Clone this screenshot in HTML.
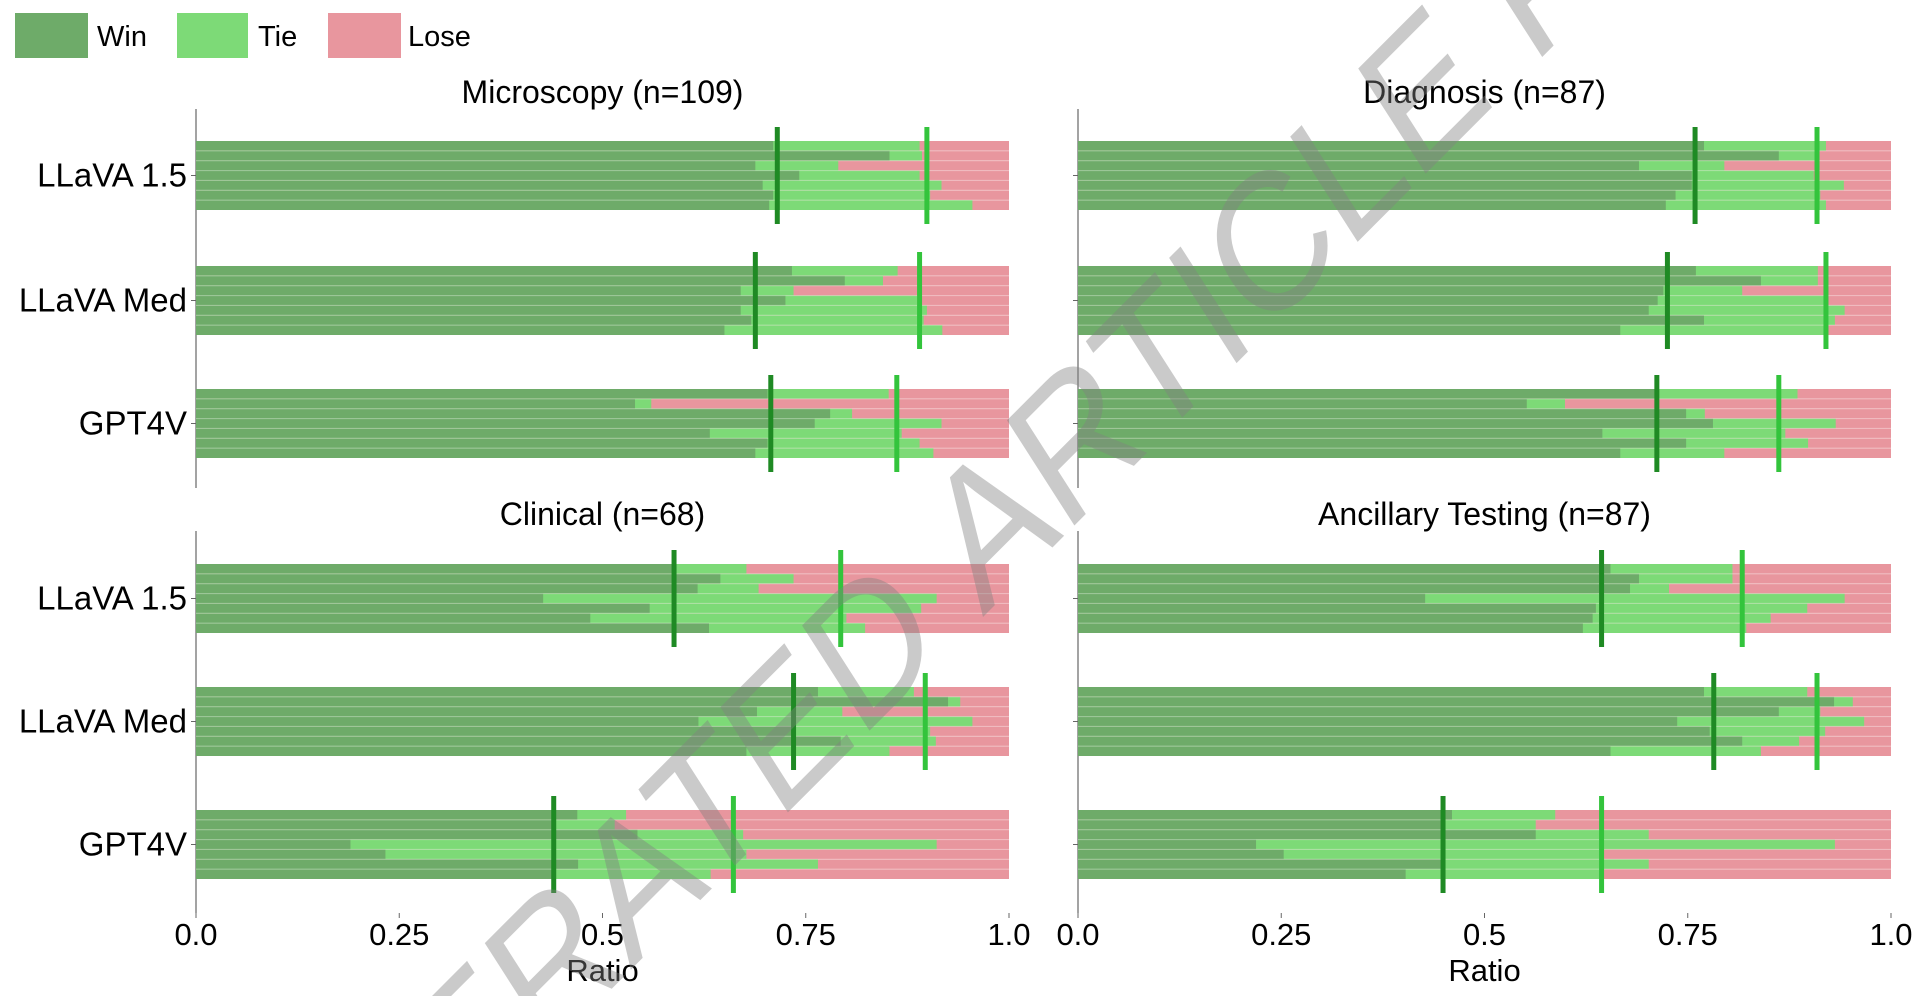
<!DOCTYPE html>
<html><head><meta charset="utf-8"><style>
html,body{margin:0;padding:0;background:#fff;overflow:hidden;width:1928px;height:996px;}
svg{display:block;font-family:"Liberation Sans",Arial,sans-serif;overflow:hidden;}
</style></head><body>
<svg id="chart" width="1928" height="996" viewBox="0 0 1928 996" xmlns="http://www.w3.org/2000/svg">
<g>
<rect x="15" y="13" width="73" height="45" fill="#6eab69"/>
<text x="97" y="46" font-size="29">Win</text>
<rect x="177" y="13" width="71" height="45" fill="#7dda77"/>
<text x="258" y="46" font-size="29">Tie</text>
<rect x="328" y="13" width="73" height="45" fill="#e8969e"/>
<text x="408" y="46" font-size="29">Lose</text>
</g>
<g id="panels"></g>
<g id="wm"></g>
</svg>
<script>
const panelTitles = ["Microscopy (n=109)", "Diagnosis (n=87)", "Clinical (n=68)", "Ancillary Testing (n=87)"];
const models = ["LLaVA 1.5", "LLaVA Med", "GPT4V"];
const xTicks = [0, 0.25, 0.5, 0.75, 1.0];
const xTickLabels = ["0.0", "0.25", "0.5", "0.75", "1.0"];
// win fraction per row (7 rows per model)
const winMicro = [[0.71,0.853,0.688,0.742,0.697,0.71,0.705],[0.733,0.798,0.67,0.725,0.67,0.683,0.65],[0.703,0.54,0.78,0.761,0.632,0.703,0.688]];
const winTieMicro = [[0.89,0.893,0.79,0.89,0.917,0.903,0.955],[0.863,0.845,0.735,0.887,0.899,0.895,0.918],[0.852,0.56,0.807,0.917,0.868,0.89,0.907]];
const meanMicro = [[0.715,0.899],[0.688,0.89],[0.707,0.862]];
const winDiag = [[0.77,0.862,0.69,0.755,0.755,0.735,0.723],[0.76,0.84,0.72,0.713,0.702,0.77,0.667],[0.713,0.552,0.748,0.781,0.645,0.748,0.667]];
const winTieDiag = [[0.92,0.91,0.795,0.905,0.942,0.913,0.92],[0.91,0.91,0.817,0.92,0.943,0.931,0.923],[0.885,0.599,0.771,0.932,0.87,0.898,0.795]];
const meanDiag = [[0.759,0.909],[0.725,0.92],[0.712,0.862]];
const winClin = [[0.587,0.645,0.617,0.427,0.558,0.485,0.631],[0.765,0.925,0.69,0.618,0.733,0.793,0.677],[0.469,0.44,0.543,0.19,0.233,0.47,0.44]];
const winTieClin = [[0.677,0.735,0.692,0.911,0.892,0.8,0.823],[0.883,0.94,0.795,0.955,0.903,0.91,0.853],[0.529,0.515,0.673,0.911,0.677,0.765,0.633]];
const meanClin = [[0.588,0.793],[0.735,0.897],[0.44,0.661]];
const winAnc = [[0.655,0.69,0.679,0.427,0.637,0.633,0.621],[0.77,0.93,0.862,0.737,0.777,0.817,0.655],[0.46,0.45,0.563,0.219,0.253,0.45,0.403]];
const winTieAnc = [[0.805,0.805,0.727,0.943,0.897,0.852,0.822],[0.897,0.953,0.913,0.967,0.919,0.887,0.84],[0.587,0.563,0.702,0.931,0.647,0.702,0.647]];
const meanAnc = [[0.644,0.817],[0.782,0.909],[0.449,0.644]];

const wins = [winMicro, winDiag, winClin, winAnc];
const winTies = [winTieMicro, winTieDiag, winTieClin, winTieAnc];
const means = [meanMicro, meanDiag, meanClin, meanAnc];

const NS = "http://www.w3.org/2000/svg";
function mk(tag, attrs, parent){ const e=document.createElementNS(NS,tag); for(const k in attrs) e.setAttribute(k,attrs[k]); parent.appendChild(e); return e; }
const root = document.getElementById("panels");
const panelX = [196, 1078, 196, 1078];
const panelW = 813;
const groupTops = [[141,266,389],[141,266,389],[564,687,810],[564,687,810]];
const axisY = [[109,488],[109,488],[531,913],[531,913]];
const titleY = [103,103,525,525];
const groupH = 69, nRows = 7;

for (let p=0;p<4;p++){
  const x0 = panelX[p];
  const sx = v => x0 + v*panelW;
  const g = mk("g",{},root);
  
  
  const t = mk("text",{x:x0+panelW/2,y:titleY[p],"font-size":32,"text-anchor":"middle"},g);
  t.textContent = panelTitles[p];
  
  
  const ax = mk("line",{x1:x0,x2:x0,y1:axisY[p][0],y2:axisY[p][1],stroke:"#666","stroke-width":1.2},g);
  
  
  for (let m=0;m<3;m++){
    const gt = groupTops[p][m];
    const rh = groupH/nRows;
    for (let r=0;r<nRows;r++){
      const y = gt + r*rh;
      const w = wins[p][m][r], wt = winTies[p][m][r];
      const lose = mk("rect",{x:sx(0),y:y,width:sx(1)-sx(0),height:rh,fill:"#e8969e"},g);
      
      
      const tie = mk("rect",{x:sx(0),y:y,width:sx(wt)-sx(0),height:rh,fill:"#7dda77"},g);
      
      
      const win = mk("rect",{x:sx(0),y:y,width:sx(w)-sx(0),height:rh,fill:"#6eab69"},g);
      
      
      if (r>0){
        const sep = mk("line",{x1:sx(0),x2:sx(1),y1:y,y2:y,stroke:"#fff","stroke-opacity":0.35,"stroke-width":1},g);
        
        
      }
    }
    const ml1 = mk("line",{x1:sx(means[p][m][0]),x2:sx(means[p][m][0]),y1:gt-14,y2:gt+groupH+14,stroke:"#1f8a24","stroke-width":5},g);
    
    
    const ml2 = mk("line",{x1:sx(means[p][m][1]),x2:sx(means[p][m][1]),y1:gt-14,y2:gt+groupH+14,stroke:"#33c43c","stroke-width":5},g);
    
    
    const cy = gt + groupH/2;
    const tk = mk("line",{x1:x0-5,x2:x0,y1:cy,y2:cy,stroke:"#666","stroke-width":1},g);
    
    
    if (p%2===0){
      const lb = mk("text",{x:x0-9,y:cy+11,"font-size":33,"text-anchor":"end"},g);
      lb.textContent = models[m];
      
      
    }
  }
  if (p>=2){
    for (let i=0;i<xTicks.length;i++){
      const tl = mk("text",{x:sx(xTicks[i]),y:945,"font-size":31,"text-anchor":"middle"},g);
      tl.textContent = xTickLabels[i];
      
      
      const tm = mk("line",{x1:sx(xTicks[i]),x2:sx(xTicks[i]),y1:913,y2:918,stroke:"#666","stroke-width":1},g);
      
      
    }
    const xt = mk("text",{x:x0+panelW/2,y:981,"font-size":31,"text-anchor":"middle"},g);
    xt.textContent = "Ratio";
    
    
  }
}
// watermark
const wm = document.getElementById("wm");
const wg = mk("g",{transform:"translate(1205,305) scale(0.8,1) rotate(-38.7)"},wm);


const wa = {"font-size":196,fill:"rgb(128,128,128)","fill-opacity":0.42};
const w1 = mk("text",Object.assign({x:-468,y:70,"text-anchor":"end"},wa),wg);
w1.textContent = "ACCELERATED";


const w2 = mk("text",Object.assign({x:0,y:70,"text-anchor":"middle"},wa),wg);
w2.textContent = "ARTICLE";


const w3 = mk("text",Object.assign({x:468,y:70,"text-anchor":"start"},wa),wg);
w3.textContent = "PREVIEW";


</script>
</body></html>
